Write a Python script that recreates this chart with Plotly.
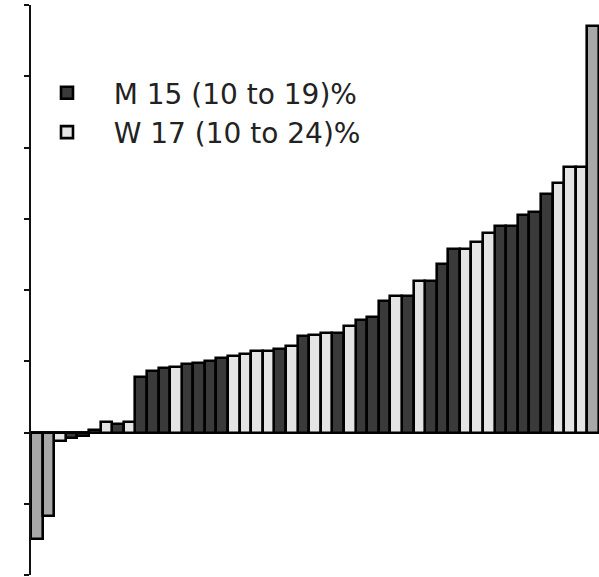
import plotly.graph_objects as go

# Sorted bar values (arbitrary units) and group of each bar
values = [-1.50, -1.17, -0.12, -0.08, -0.05, 0.03, 0.15, 0.12, 0.15,
          0.78, 0.87, 0.90, 0.92, 0.96, 0.97, 1.00, 1.04, 1.07, 1.10,
          1.14, 1.14, 1.17, 1.22, 1.36, 1.37, 1.40, 1.40, 1.50, 1.58,
          1.62, 1.85, 1.92, 1.92, 2.12, 2.12, 2.36, 2.57, 2.57, 2.68,
          2.80, 2.90, 2.90, 3.05, 3.10, 3.35, 3.50, 3.72, 3.72, 5.70]
groups = ["G", "G", "W", "M", "M", "M", "W", "M", "W",
          "M", "M", "M", "W", "M", "M", "M", "M", "W", "W",
          "W", "W", "M", "W", "M", "W", "W", "M", "W", "M",
          "M", "M", "W", "M", "W", "M", "M", "M", "W", "W",
          "W", "M", "M", "M", "M", "M", "W", "W", "W", "G"]
series_names = {"M": "M 15 (10 to 19)%", "W": "W 17 (10 to 24)%"}
fills = {"M": "#3a3a3a", "W": "#e4e4e4", "G": "#a8a8a8"}
y_ticks = [-2, -1, 0, 1, 2, 3, 4, 5, 6]

positions = list(range(len(values)))

fig = go.Figure()
for g in ["M", "W", "G"]:
    xs = [p for p, gg in zip(positions, groups) if gg == g]
    ys = [v for v, gg in zip(values, groups) if gg == g]
    fig.add_trace(go.Bar(
        x=xs, y=ys,
        name=("\u00a0\u00a0\u00a0" + series_names[g]) if g in series_names else "other",
        showlegend=g in series_names,
        marker=dict(color=fills[g], line=dict(color="#000000", width=2.6)),
    ))

fig.update_layout(
    width=599, height=577,
    margin=dict(l=31, r=0, t=5, b=2),
    paper_bgcolor="white", plot_bgcolor="white",
    barmode="overlay", bargap=0,
    showlegend=True,
    legend=dict(
        x=(47 - 31) / 568, xanchor="left",
        y=1 - (68 - 5) / 570, yanchor="top",
        font=dict(family="DejaVu Sans", size=28, color="#222222"),
        bgcolor="rgba(0,0,0,0)", itemclick=False,
        tracegroupgap=0,
    ),
    font=dict(family="DejaVu Sans"),
)
fig.update_xaxes(
    range=[-0.5, len(values) - 0.5],
    showticklabels=False, ticks="", showgrid=False,
    zeroline=False, showline=False,
)
fig.update_yaxes(
    range=[-2, 6], tickvals=y_ticks, showticklabels=False,
    ticks="outside", ticklen=5, tickwidth=2, tickcolor="#111111",
    showline=True, linecolor="#111111", linewidth=2,
    showgrid=False, zeroline=True, zerolinecolor="#111111", zerolinewidth=3,
)

fig.write_html("out.html")
